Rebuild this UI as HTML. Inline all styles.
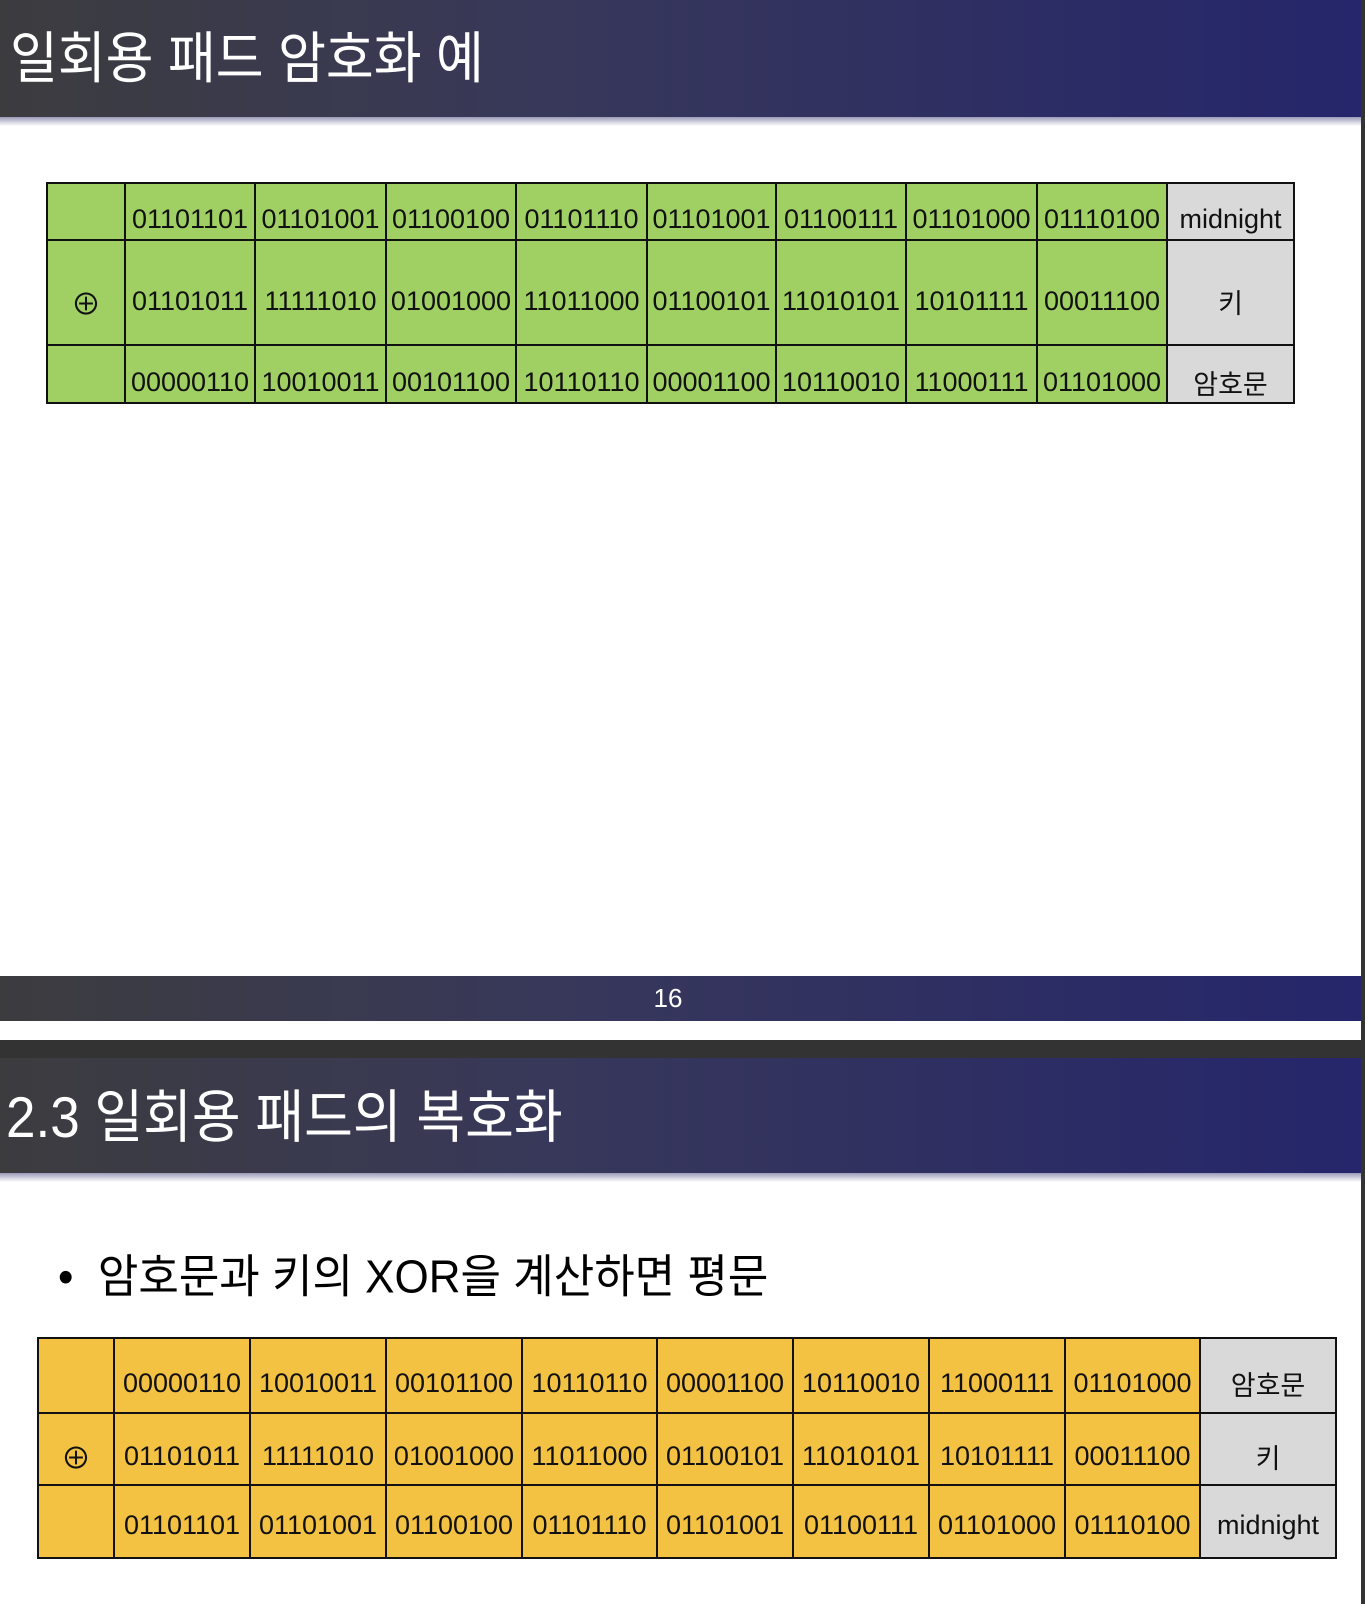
<!DOCTYPE html>
<html><head><meta charset="utf-8"><style>
*{margin:0;padding:0;box-sizing:border-box}
body{width:1365px;height:1604px;position:relative;background:#fff;overflow:hidden;font-family:"Liberation Sans","Noto Sans CJK KR",sans-serif}
.bar{position:absolute;left:0;width:1361px;background:linear-gradient(90deg,#3c3c3f 0%,#38385a 40%,#25266b 100%)}
.shadow{position:absolute;left:0;width:1361px;height:9px;background:linear-gradient(#9a9ab8,#fff)}
.title{position:absolute;color:#fff;font-size:52px;white-space:nowrap;transform-origin:0 0;transform:scaleY(1.08)}
.c{position:absolute;border:2px solid #111;display:flex;align-items:center;justify-content:center;font-size:27px;color:#111;white-space:nowrap;overflow:hidden}
.g{background:#a0d063}.y{background:#f4c242}.w{background:#d9d9d9}
</style></head><body>
<div style="position:absolute;left:1361px;top:0;width:4px;height:1604px;background:#333"></div>
<div class="bar" style="top:0;height:117px"></div>
<div class="shadow" style="top:117px"></div>
<div class="title" style="left:10px;top:13px">일회용 패드 암호화 예</div>
<div id="t1"></div>
<div class="bar" style="top:976px;height:45px"></div>
<div style="position:absolute;left:0;width:1336px;top:983px;text-align:center;color:#fff;font-size:26px">16</div>
<div style="position:absolute;left:0;top:1040px;width:1361px;height:18px;background:#333"></div>
<div class="bar" style="top:1058px;height:115px"></div>
<div class="shadow" style="top:1173px"></div>
<div class="title" style="left:6px;top:1072px;font-size:53px">2.3 일회용 패드의 복호화</div>
<div style="position:absolute;left:58px;top:1239px;font-size:44px;color:#000;white-space:nowrap;transform-origin:0 0;transform:scaleY(1.05)">•&nbsp; 암호문과 키의 XOR을 계산하면 평문</div>
<div id="t2"></div>
<script>
const rows1=[["","01101101","01101001","01100100","01101110","01101001","01100111","01101000","01110100","midnight"],
["⊕","01101011","11111010","01001000","11011000","01100101","11010101","10101111","00011100","키"],
["","00000110","10010011","00101100","10110110","00001100","10110010","11000111","01101000","암호문"]];
const rows2=[["","00000110","10010011","00101100","10110110","00001100","10110010","11000111","01101000","암호문"],
["⊕","01101011","11111010","01001000","11011000","01100101","11010101","10101111","00011100","키"],
["","01101101","01101001","01100100","01101110","01101001","01100111","01101000","01110100","midnight"]];
function build(id,rows,xs,ys,cls,offs){
  const host=document.getElementById(id);
  rows.forEach((r,ri)=>{r.forEach((t,ci)=>{
    const d=document.createElement('div');
    
    
    d.className='c '+(ci===9?'w':cls);
    d.style.left=xs[ci]+'px';d.style.top=ys[ri]+'px';
    d.style.width=(xs[ci+1]-xs[ci]+2)+'px';d.style.height=(ys[ri+1]-ys[ri]+2)+'px';
    d.style.paddingTop=offs[ri]+'px';
    if(t==='⊕')d.style.fontSize='30px';
    d.textContent=t;host.appendChild(d);});});
}
build('t1',rows1,[46,124,254,385,515,646,775,905,1036,1166,1293],[182,239,344,402],'g',[16,18,16]);
build('t2',rows2,[37,113,249,385,521,656,792,928,1064,1199,1335],[1337,1412,1484,1557],'y',[16,14,8]);
</script>
</body></html>
